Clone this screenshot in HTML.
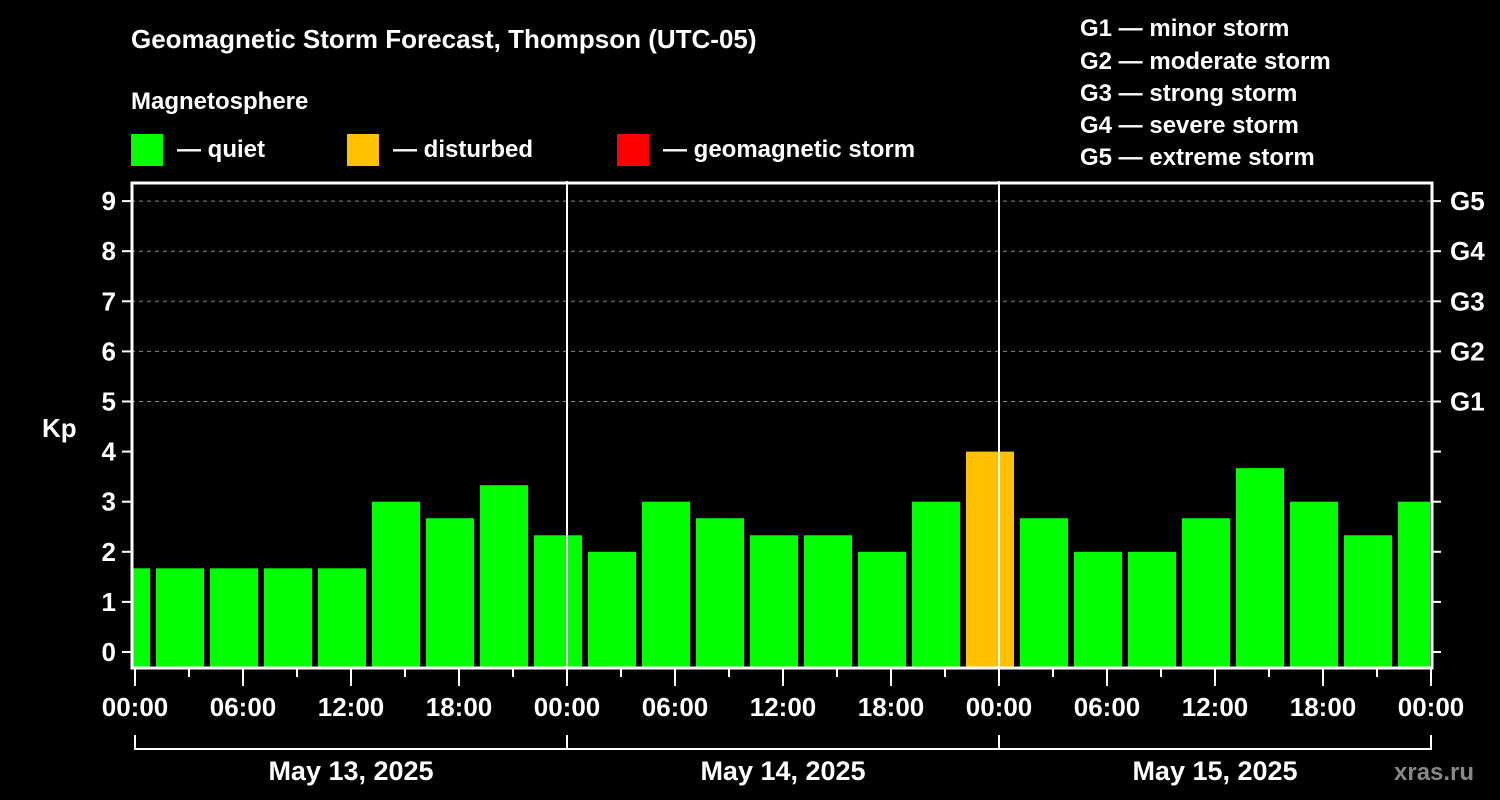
<!DOCTYPE html>
<html><head><meta charset="utf-8"><style>
body{margin:0;background:#000;width:1500px;height:800px;overflow:hidden}
svg{display:block;font-family:"Liberation Sans",Arial,sans-serif;font-weight:bold}
</style></head><body>
<svg id="c" width="1500" height="800">
<text x="131" y="48" fill="#fff" font-size="26">Geomagnetic Storm Forecast, Thompson (UTC-05)</text>
<text x="131" y="109" fill="#fff" font-size="24">Magnetosphere</text>
<g><rect x="131" y="134" width="32" height="32" fill="#00ff00"/><text x="177" y="157" fill="#fff" font-size="24">— quiet</text></g>
<g><rect x="347" y="134" width="32" height="32" fill="#ffc000"/><text x="393" y="157" fill="#fff" font-size="24">— disturbed</text></g>
<g><rect x="617" y="134" width="32" height="32" fill="#ff0000"/><text x="663" y="157" fill="#fff" font-size="24">— geomagnetic storm</text></g>
<g fill="#fff" font-size="24">
<text x="1080" y="36">G1 — minor storm</text><text x="1080" y="69">G2 — moderate storm</text><text x="1080" y="101">G3 — strong storm</text><text x="1080" y="133">G4 — severe storm</text><text x="1080" y="165">G5 — extreme storm</text></g>
<text x="42" y="437" fill="#fff" font-size="26">Kp</text>
<text x="1394" y="780" fill="#888" font-size="24">xras.ru</text>
<defs><clipPath id="pc"><rect x="133" y="183" width="1297" height="484"/></clipPath></defs>
<g id="grid"></g><g id="bars" clip-path="url(#pc)"></g><g id="axes"></g>
</svg>
<script>
const hours=[-0.5,2.5,5.5,8.5,11.5,14.5,17.5,20.5,23.5,26.5,29.5,32.5,35.5,38.5,41.5,44.5,47.5,50.5,53.5,56.5,59.5,62.5,65.5,68.5,71.5];
const kp=[1.67,1.67,1.67,1.67,1.67,3,2.67,3.33,2.33,2,3,2.67,2.33,2.33,2,3,4,2.67,2,2,2.67,3.67,3,2.33,3];
const xLabels=["00:00","06:00","12:00","18:00","00:00","06:00","12:00","18:00","00:00","06:00","12:00","18:00","00:00"];
const dates=["May 13, 2025","May 14, 2025","May 15, 2025"];
const gLabels=["G1","G2","G3","G4","G5"];
const NS="http://www.w3.org/2000/svg";
const X=h=>135+h*18, Y=k=>652-k*50.1;
function mk(p,t,a,txt){const e=document.createElementNS(NS,t);for(const k in a)e.setAttribute(k,a[k]);if(txt!=null)e.textContent=txt;p.appendChild(e);return e;}
const G=document.getElementById('grid'),B=document.getElementById('bars'),A=document.getElementById('axes');
for(let k=5;k<=9;k++){const l=mk(G,'line',{x1:131,x2:1431,y1:Y(k),y2:Y(k),stroke:'#888','stroke-dasharray':'4 4','stroke-width':1});

}
hours.forEach((h,i)=>{const v=kp[i];const c=v>=5?'#ff0000':(v>=4?'#ffc000':'#00ff00');
const r=mk(B,'rect',{x:X(h)-24,y:Y(v),width:48,height:667-Y(v),fill:c});

});
[567,999].forEach((x,i)=>{const l=mk(A,'line',{x1:x,x2:x,y1:181,y2:668,stroke:'#fff','stroke-width':2});

});
const f=mk(A,'rect',{x:132,y:183,width:1300,height:485,fill:'none',stroke:'#fff','stroke-width':3});


for(let k=0;k<=9;k++){mk(A,'line',{x1:122,x2:131,y1:Y(k),y2:Y(k),stroke:'#fff','stroke-width':2});
mk(A,'line',{x1:1432,x2:1441,y1:Y(k),y2:Y(k),stroke:'#fff','stroke-width':2});
const t=mk(A,'text',{x:116,y:Y(k)+9,fill:'#fff','font-size':26,'text-anchor':'end'},String(k));

}
gLabels.forEach((g,i)=>{const t=mk(A,'text',{x:1450,y:Y(5+i)+9,fill:'#fff','font-size':26},g);

});
for(let h=0;h<=72;h+=3){const maj=h%6===0;mk(A,'line',{x1:X(h),x2:X(h),y1:669,y2:maj?686:677,stroke:'#fff','stroke-width':2});}
xLabels.forEach((s,i)=>{const t=mk(A,'text',{x:X(i*6),y:716,fill:'#fff','font-size':26,'text-anchor':'middle'},s);

});
mk(A,'path',{d:'M135 735V749H1431V735M567 735V749M999 735V749',fill:'none',stroke:'#fff','stroke-width':2});
dates.forEach((d,i)=>{const t=mk(A,'text',{x:X(i*24+12),y:780,fill:'#fff','font-size':27,'text-anchor':'middle'},d);

});
</script>
</body></html>
